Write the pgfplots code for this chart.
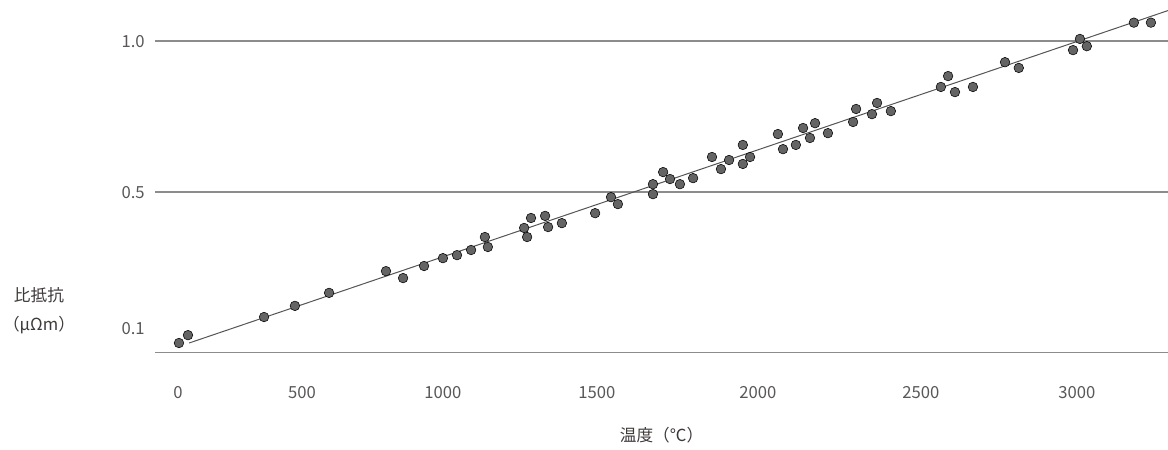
\documentclass[border=0pt]{standalone}
\usepackage{fontspec}
\setmainfont{Noto Sans CJK JP}
\usepackage{pgfplots}
\usepackage{pgfplotstable}
\pgfplotsset{compat=1.18}
\definecolor{dotgray}{HTML}{646464}
\definecolor{linegray}{HTML}{555555}
\definecolor{gridgray}{HTML}{8C8C8C}
\definecolor{textgray}{HTML}{595757}
\definecolor{labelgray}{HTML}{3E3A39}

\pgfplotstableread{
x y
3 0.000
33 0.026
287 0.086
390 0.123
504 0.166
694 0.238
751 0.215
821 0.255
884 0.281
931 0.291
978 0.308
1024 0.351
1034 0.318
1155 0.381
1165 0.351
1178 0.414
1225 0.421
1235 0.384
1281 0.397
1392 0.430
1445 0.483
1468 0.460
1585 0.526
1585 0.493
1619 0.566
1642 0.543
1675 0.526
1719 0.546
1782 0.616
1812 0.576
1839 0.606
1885 0.656
1885 0.593
1909 0.616
2002 0.692
2019 0.642
2062 0.656
2086 0.712
2109 0.679
2126 0.728
2169 0.695
2253 0.732
2263 0.775
2316 0.758
2333 0.795
2379 0.768
2546 0.848
2570 0.884
2593 0.831
2653 0.848
2760 0.930
2806 0.911
2987 0.970
3010 1.007
3033 0.983
3190 1.061
3247 1.061
}\pts

\pgfplotstableread{
x y
37 0.000
3304 1.101
}\trend

\begin{document}
\begin{tikzpicture}[x=1pt,y=1pt]
\path[use as bounding box] (-116.25,-73) rectangle (759.75,264.5);
\begin{axis}[
  at={(0,0)}, anchor=south west,
  scale only axis, width=759.75pt, height=264.5pt,
  xmin=-77, xmax=3304, ymin=-0.032, ymax=1.136,
  clip=false,
  axis x line*=bottom, axis y line*=left,
  every outer x axis line/.append style={-},
  every outer y axis line/.append style={-},
  x axis line style={draw=gridgray, line width=0.9pt, -},
  y axis line style={draw=none},
  major tick length=0pt,
  tick style={draw=none},
  xtick={0,414,884,1398,1935,2479,3000},
  xticklabels={0,500,1000,1500,2000,2500,3000},
  ytick={0.5,1.0},
  yticklabels={0.5,1.0},
  extra y ticks={0.048},
  extra y tick labels={0.1},
  extra y tick style={grid=none},
  ymajorgrids,
  grid style={draw=gridgray, line width=0.9pt},
  xticklabel style={font=\fontsize{12.5}{15}\selectfont, text=textgray, anchor=base, inner sep=0pt, yshift=-34.7pt},
  yticklabel style={font=\fontsize{12.5}{15}\selectfont, text=textgray, anchor=base east, inner sep=0pt, xshift=-7.5pt, yshift=-4.6pt},
  xlabel={温度（℃）},
  xlabel style={at={(rel axis cs:0.5,0)}, anchor=base, inner sep=0pt, yshift=-66.5pt, font=\fontsize{12.5}{15}\selectfont, text=labelgray},
  ylabel={比抵抗\\[7pt]（μΩm）},
  ylabel style={rotate=-90, at={(rel axis cs:0,0)}, anchor=center, align=center, xshift=-87pt, yshift=31.3pt, font=\fontsize{12.5}{15}\selectfont, text=labelgray},
]
\addplot[draw=linegray, line width=0.75pt, no marks] table[x=x,y=y] {\trend};
\addplot[only marks, mark=*, mark size=3.6pt, mark options={fill=dotgray, draw=none}] table[x=x,y=y] {\pts};
\end{axis}
\end{tikzpicture}
\end{document}
